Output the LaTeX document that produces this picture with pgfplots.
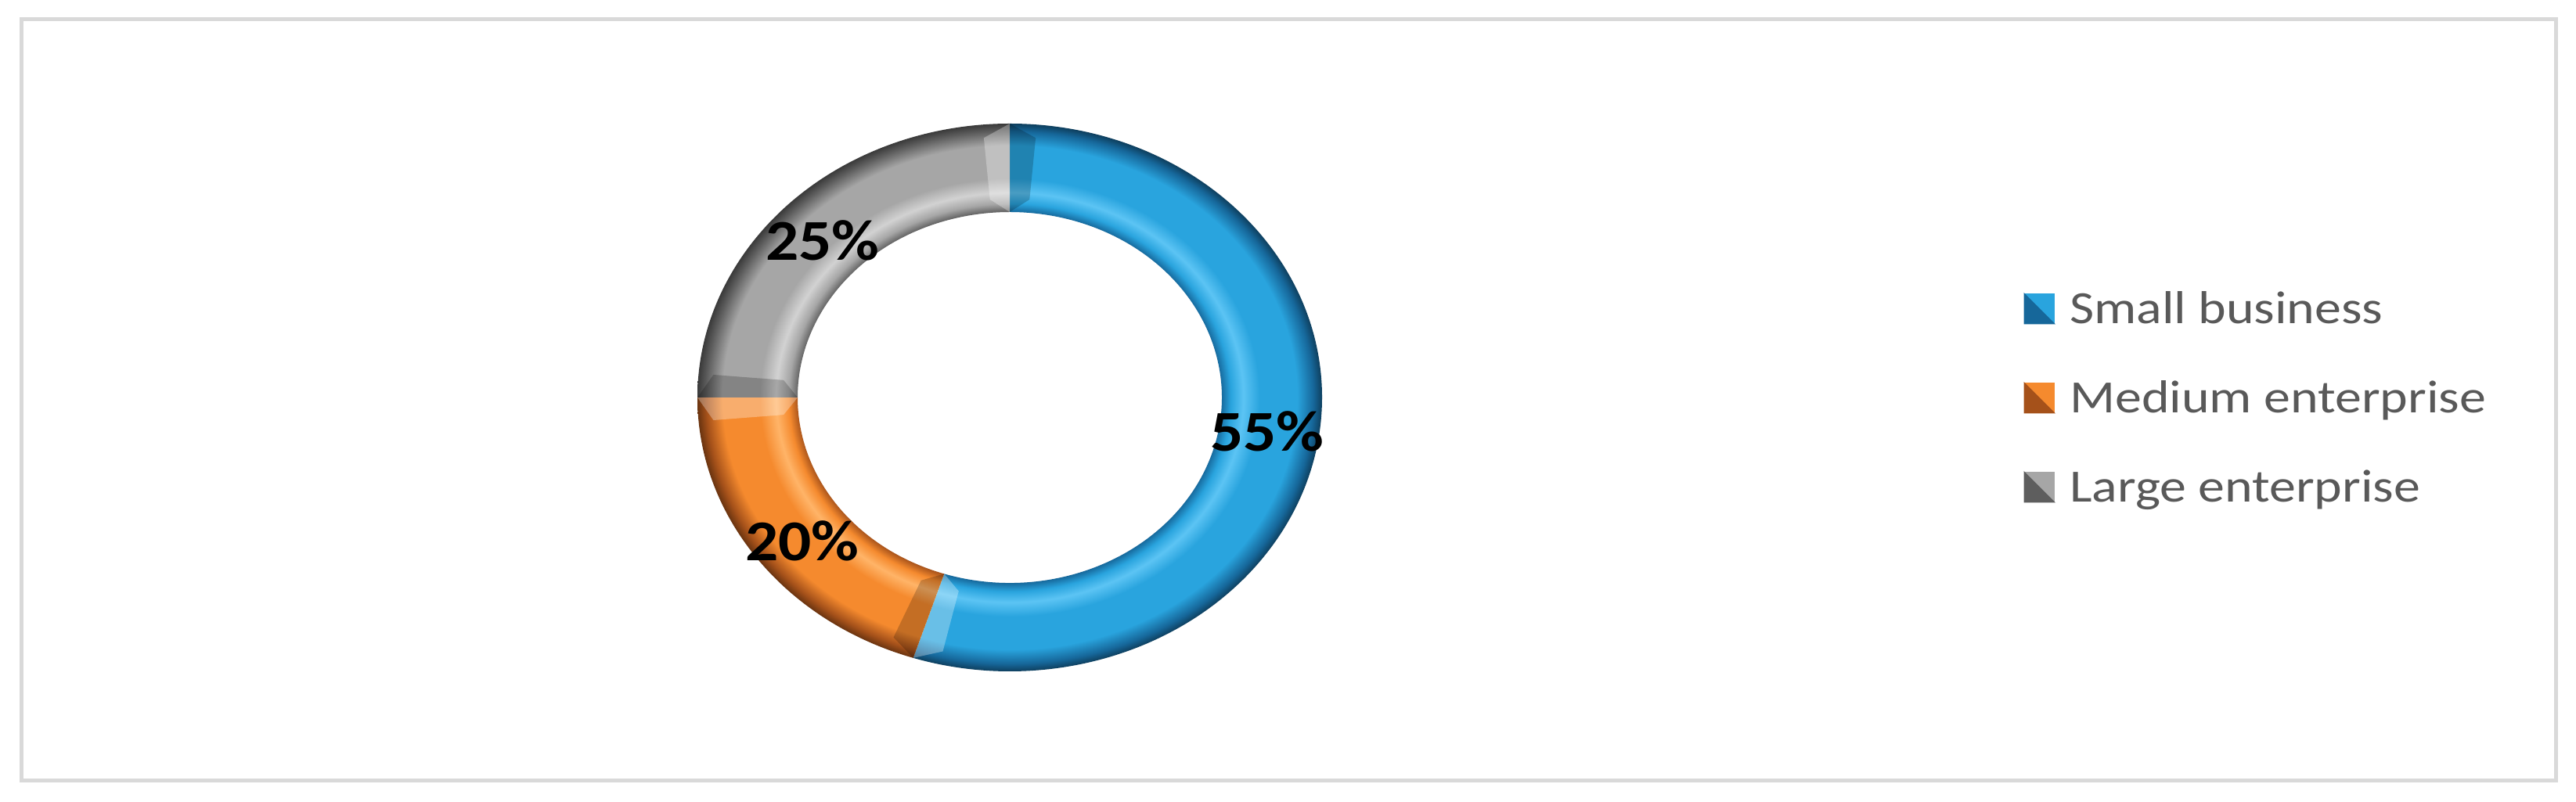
\documentclass[border=0pt]{standalone}
\usepackage{pgfplots}
\usepackage{pgfplotstable}
\usepackage{fontspec}
\pgfplotsset{compat=1.18}
\setmainfont{Carlito}
\newfontfamily\legfont{Carlito}[FakeStretch=1.15]
\newfontfamily\labfont{Carlito}[FakeStretch=1.13]

% shares of the doughnut, clockwise from 12 o'clock
\pgfplotstableread{
share
55
20
25
}\donutdata

\definecolor{sbBlue}{HTML}{29A4DE}
\definecolor{sbBlueL}{HTML}{5CC4F4}
\definecolor{sbBlueD}{HTML}{16679A}
\definecolor{sbBlueDD}{HTML}{0E3F5E}
\definecolor{meOrange}{HTML}{F58A2E}
\definecolor{meOrangeL}{HTML}{FFB468}
\definecolor{meOrangeD}{HTML}{A5511A}
\definecolor{meOrangeDD}{HTML}{6A3410}
\definecolor{leGray}{HTML}{A6A6A6}
\definecolor{leGrayL}{HTML}{D2D2D2}
\definecolor{leGrayD}{HTML}{5E5E5E}
\definecolor{leGrayDD}{HTML}{3A3A3A}
\definecolor{frameGray}{HTML}{D9D9D9}
\definecolor{legText}{HTML}{595959}

\pgfdeclareradialshading{ringBlue}{\pgfpointorigin}{color(0bp)=(sbBlueD); color(16.9bp)=(sbBlueD); color(17.7bp)=(sbBlue); color(18.7bp)=(sbBlueL); color(20bp)=(sbBlue); color(23bp)=(sbBlue); color(24.3bp)=(sbBlueD); color(25bp)=(sbBlueDD); color(50bp)=(sbBlueDD)}
\pgfdeclareradialshading{ringOrange}{\pgfpointorigin}{color(0bp)=(meOrangeD); color(16.9bp)=(meOrangeD); color(17.7bp)=(meOrange); color(18.7bp)=(meOrangeL); color(20bp)=(meOrange); color(23bp)=(meOrange); color(24.3bp)=(meOrangeD); color(25bp)=(meOrangeDD); color(50bp)=(meOrangeDD)}
\pgfdeclareradialshading{ringGray}{\pgfpointorigin}{color(0bp)=(leGrayD); color(16.9bp)=(leGrayD); color(17.7bp)=(leGray); color(18.7bp)=(leGrayL); color(20bp)=(leGray); color(23bp)=(leGray); color(24.3bp)=(leGrayD); color(25bp)=(leGrayDD); color(50bp)=(leGrayDD)}

% one ring segment, clockwise from angle #1 to angle #2
\newcommand{\ringslice}[3]{%
  \begin{scope}
    \clip (#1:3.99cm and 3.50cm) arc[start angle=#1, end angle=#2, x radius=3.99cm, y radius=3.50cm]
      -- (#2:2.71cm and 2.37cm) arc[start angle=#2, end angle=#1, x radius=2.71cm, y radius=2.37cm] -- cycle;
    \shade[shading=#3] (0,0) ellipse [x radius=3.99cm, y radius=3.50cm];
    \fill[black, opacity=0.2] (#1:3.99cm and 3.50cm) -- ({#1-5}:3.80cm and 3.33cm)
      -- ({#1-5}:2.90cm and 2.54cm) -- (#1:2.71cm and 2.37cm) -- cycle;
    \fill[white, opacity=0.3] (#2:3.99cm and 3.50cm) -- ({#2+5}:3.80cm and 3.33cm)
      -- ({#2+5}:2.90cm and 2.54cm) -- (#2:2.71cm and 2.37cm) -- cycle;
  \end{scope}}

\newcommand{\sqimg}[2]{%
  \fill[#1] (0cm,-0.19cm) rectangle (0.38cm,0.19cm);
  \fill[#2] (0cm,-0.19cm) -- (0.38cm,-0.19cm) -- (0.19cm,0cm) -- (0cm,0.19cm) -- cycle;}

\begin{document}
\begin{tikzpicture}
\begin{axis}[
    at={(0,0)}, anchor=south west,
    scale only axis,
    width=32.91cm, height=10.25cm,
    xmin=0, xmax=3291, ymin=0, ymax=1025,
    hide axis,
    clip=false,
    legend cell align=left,
    legend style={
        at={(axis cs:2585,657)}, anchor=north west,
        draw=none, fill=none, inner sep=0pt,
        font=\legfont\fontsize{16.8}{20}\selectfont, text=legText,
        nodes={inner sep=0pt, text height=0.45cm, text depth=0.07cm},
        row sep=0.62cm,
        /tikz/every odd column/.append style={column sep=0.19cm},
    },
]
\path (axis cs:0,0) rectangle (axis cs:3291,1025);
\draw[frameGray, line width=0.05cm] (axis cs:27,1000) rectangle (axis cs:3265,27);

\pgfplotsextra{
  \pgfplotstablegetelem{0}{share}\of\donutdata \let\sA\pgfplotsretval
  \pgfplotstablegetelem{1}{share}\of\donutdata \let\sB\pgfplotsretval
  \pgfplotstablegetelem{2}{share}\of\donutdata \let\sC\pgfplotsretval
  \pgfmathsetmacro\aA{90-3.6*\sA}
  \pgfmathsetmacro\aB{\aA-3.6*\sB}
  \pgfmathsetmacro\aC{\aB-3.6*\sC}
  \begin{scope}[shift={(axis cs:1290,517)}]
    \ringslice{90}{\aA}{ringBlue}
    \ringslice{\aA}{\aB}{ringOrange}
    \ringslice{\aB}{\aC}{ringGray}
  \end{scope}
  \node[inner sep=0pt, font=\labfont\bfseries\fontsize{21}{25}\selectfont] at (axis cs:1619,474) {\sA\%};
  \node[inner sep=0pt, font=\labfont\bfseries\fontsize{21}{25}\selectfont] at (axis cs:1025,334) {\sB\%};
  \node[inner sep=0pt, font=\labfont\bfseries\fontsize{21}{25}\selectfont] at (axis cs:1051,718) {\sC\%};
}

\addlegendimage{legend image code/.code={\sqimg{sbBlue}{sbBlueD}}}
\addlegendimage{legend image code/.code={\sqimg{meOrange}{meOrangeD}}}
\addlegendimage{legend image code/.code={\sqimg{leGray}{leGrayD}}}
\legend{Small business, Medium enterprise, Large enterprise}
\end{axis}
\end{tikzpicture}
\end{document}
